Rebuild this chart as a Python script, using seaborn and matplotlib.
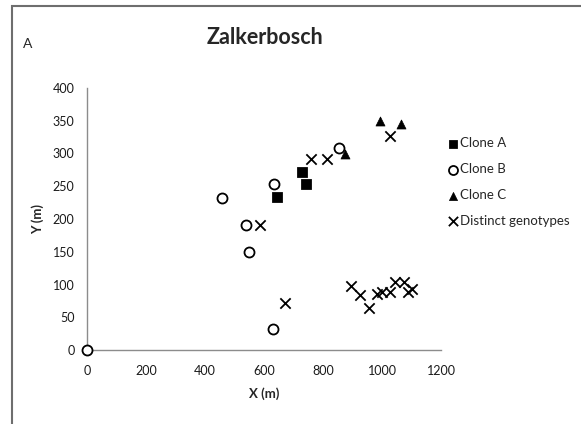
import matplotlib
matplotlib.use("Agg")
import matplotlib.pyplot as plt
import pandas as pd
import seaborn as sns
from matplotlib.patches import Rectangle

# coordinates (metres)
clone_a_x = [645, 730, 741]
clone_a_y = [233, 272, 253]

clone_b_x = [0, 457, 538, 550, 629, 634, 855]
clone_b_y = [0, 232, 191, 149, 32, 254, 309]

clone_c_x = [875, 993, 1063]
clone_c_y = [300, 350, 345]

distinct_x = [586, 671, 759, 812, 1027, 894, 925, 957, 982, 999, 1027, 1044, 1075, 1089, 1100]
distinct_y = [191, 72, 292, 292, 326, 97, 84, 64, 86, 89, 89, 104, 104, 89, 93]

x_ticks = [0, 200, 400, 600, 800, 1000, 1200]
y_ticks = [0, 50, 100, 150, 200, 250, 300, 350, 400]

sns.set_style("white")
plt.rcParams["font.family"] = ["Lato", "DejaVu Sans"]

fig = plt.figure(figsize=(5.81, 4.24), dpi=100)
ax = fig.add_axes([87 / 581, 1 - 350 / 424, (441 - 87) / 581, (350 - 88) / 424])

groups = [
    ("Clone A", clone_a_x, clone_a_y, dict(marker="s", color="black", s=50, edgecolor="black")),
    ("Clone B", clone_b_x, clone_b_y, dict(marker="o", facecolor="white", edgecolor="black", s=52, linewidth=1.3)),
    ("Clone C", clone_c_x, clone_c_y, dict(marker="^", color="black", s=42, edgecolor="black")),
    ("Distinct genotypes", distinct_x, distinct_y, dict(marker="x", color="black", s=55, linewidth=1.3)),
]

for name, xs, ys, kw in groups:
    df = pd.DataFrame({"x": xs, "y": ys})
    sns.scatterplot(data=df, x="x", y="y", ax=ax, label=name, zorder=3, clip_on=False, **kw)

ax.set_xlim(0, 1200)
ax.set_ylim(0, 400)
ax.set_xticks(x_ticks)
ax.set_yticks(y_ticks)
sns.despine(ax=ax)
for side in ["left", "bottom"]:
    ax.spines[side].set_color("#8c8c8c")
    ax.spines[side].set_linewidth(1.0)
ax.tick_params(axis="both", direction="out", length=4, width=1, color="#8c8c8c",
               labelsize=9, labelcolor="#1a1a1a", pad=5)
ax.tick_params(axis="x", pad=7)

ax.set_xlabel("X (m)", fontsize=9.5, fontweight="bold", labelpad=7)
ax.set_ylabel("Y (m)", fontsize=9.5, fontweight="bold", labelpad=6)

fig.text(265 / 581, 1 - 37 / 424, "Zalkerbosch", ha="center", va="center",
         fontsize=15.5, fontweight="bold")
fig.text(28 / 581, 1 - 44 / 424, "A", ha="center", va="center", fontsize=10)

leg = ax.legend(loc="upper left", bbox_to_anchor=(440 / 581, 1 - 132 / 424),
                bbox_transform=fig.transFigure, frameon=False, fontsize=9.5,
                handletextpad=0.0, labelspacing=1.05, handlelength=1.1,
                markerscale=0.9, borderaxespad=0)

# frame around the panel (only left and top visible in the crop)
fig.patches.append(Rectangle((12 / 581, -0.1), 1.2, 1 - 6 / 424 + 0.1,
                             transform=fig.transFigure, fill=False,
                             edgecolor="#6e6e6e", linewidth=1.5))

plt.savefig("out.png", dpi=100)
